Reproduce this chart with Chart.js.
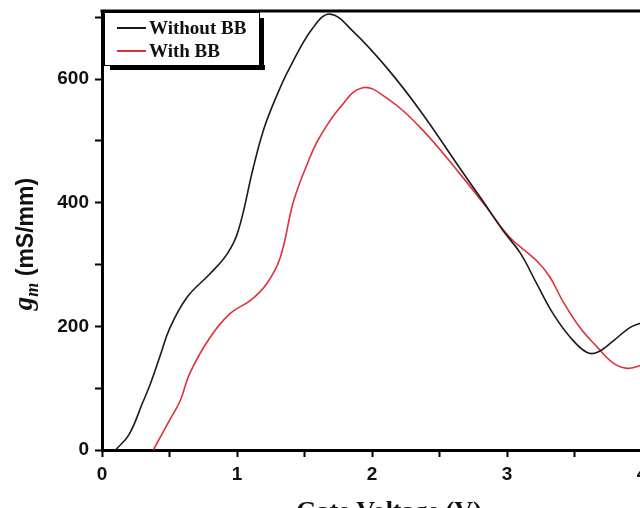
<!DOCTYPE html>
<html>
<head>
<meta charset="utf-8">
<script src="https://cdn.jsdelivr.net/npm/chart.js@4.4.1/dist/chart.umd.min.js"></script>
<style>
  html, body { margin: 0; padding: 0; background: #fff; overflow: hidden; }
  #wrap { position: relative; width: 660px; height: 530px; }
</style>
</head>
<body>
<div id="wrap"><canvas id="gmChart"></canvas></div>
<script>
// ── Data ──
const seriesNames = ['Without BB', 'With BB'];

const withoutVg = [0.10, 0.20, 0.30, 0.36, 0.43, 0.50, 0.63, 0.80, 0.93, 1.01, 1.12, 1.20,
                   1.30, 1.39, 1.56, 1.69, 1.86, 2.11, 2.36, 2.65, 2.82, 2.97, 3.10, 3.22,
                   3.34, 3.47, 3.59, 3.67, 3.79, 3.91, 4.00];
const withoutGm = [0, 25, 76, 108, 152, 196, 247, 285, 318, 355, 456, 520,
                   576, 618, 682, 705, 677, 618, 548, 456, 403, 355, 318, 269,
                   221, 182, 158, 158, 177, 198, 206];

const withVg = [0.38, 0.50, 0.58, 0.65, 0.80, 0.95, 1.10, 1.22, 1.32, 1.42, 1.54,
                1.61, 1.76, 1.93, 2.11, 2.36, 2.65, 2.85, 3.02, 3.22, 3.32, 3.41, 3.54,
                3.67, 3.79, 3.89, 4.00];
const withGm = [0, 48, 80, 124, 182, 221, 242, 269, 311, 403, 473,
                505, 553, 586, 569, 521, 447, 392, 344, 306, 279, 242, 198,
                166, 140, 132, 137];

// ticks: majors carry a label, minors are blank
const xTickValues = [0, 0.5, 1, 1.5, 2, 2.5, 3, 3.5, 4];
const xTickLabels = ['0', '', '1', '', '2', '', '3', '', '4'];
const yTickValues = [0, 100, 200, 300, 400, 500, 600, 700];
const yTickLabels = ['0', '', '200', '', '400', '', '600', ''];

const toPoints = (xs, ys) => xs.map((x, i) => ({ x, y: ys[i] }));

/* ════════════════════════════
   FRAME, TITLES & LEGEND
════════════════════════════ */
const framePlugin = {
  id: 'frame',
  afterDraw(chart) {
    const { ctx, chartArea: a } = chart;
    ctx.save();
    // top border
    ctx.strokeStyle = '#000';
    ctx.lineWidth = 3;
    ctx.beginPath();
    ctx.moveTo(a.left - 1.5, a.top);
    ctx.lineTo(a.right + 2, a.top);
    ctx.stroke();

    // y title: g_m (mS/mm)
    ctx.fillStyle = '#111';
    ctx.translate(27, 244);
    ctx.rotate(-Math.PI / 2);
    ctx.textBaseline = 'middle';
    ctx.font = 'italic bold 27px "Liberation Serif"';
    const gW = ctx.measureText('g').width;
    ctx.font = 'italic bold 18px "Liberation Serif"';
    const mW = ctx.measureText('m').width;
    ctx.font = 'bold 23px "Liberation Sans"';
    const restW = ctx.measureText(' (mS/mm)').width;
    let x0 = -(gW + mW + restW) / 2;
    ctx.font = 'italic bold 27px "Liberation Serif"';
    ctx.fillText('g', x0, -2);
    ctx.font = 'italic bold 18px "Liberation Serif"';
    ctx.fillText('m', x0 + gW, 6);
    ctx.font = 'bold 23px "Liberation Sans"';
    ctx.fillText(' (mS/mm)', x0 + gW + mW, 0);
    ctx.restore();

    // x title (cut by the window edge)
    ctx.save();
    ctx.fillStyle = '#111';
    ctx.font = 'bold 26px "Liberation Serif"';
    ctx.textAlign = 'center';
    ctx.textBaseline = 'alphabetic';
    ctx.fillText('Gate Voltage (V)', 389, 519);
    ctx.restore();

    // legend box with drop shadow
    ctx.save();
    const bx = a.left + 2, by = a.top + 1, bw = 155, bh = 53;
    ctx.fillStyle = '#000';
    ctx.fillRect(bx + 6, by + bh, bw, 5);
    ctx.fillRect(bx + bw, by + 6, 5, bh - 1);
    ctx.fillStyle = '#fff';
    ctx.fillRect(bx, by, bw, bh);
    ctx.strokeStyle = '#000';
    ctx.lineWidth = 1;
    ctx.strokeRect(bx + 0.5, by + 0.5, bw, bh);
    ctx.font = 'bold 19px "Liberation Serif"';
    ctx.textBaseline = 'middle';
    chart.data.datasets.forEach((ds, i) => {
      const ly = by + 16 + i * 23;
      ctx.strokeStyle = ds.borderColor;
      ctx.lineWidth = 2;
      ctx.beginPath();
      ctx.moveTo(bx + 13, ly);
      ctx.lineTo(bx + 42, ly);
      ctx.stroke();
      ctx.fillStyle = '#111';
      ctx.fillText(ds.label, bx + 45, ly + 1);
    });
    ctx.restore();
  }
};

/* ════════════════════════════
   CHART
════════════════════════════ */
const tickFont = { family: '"Liberation Sans"', size: 19, weight: 'bold' };

new Chart(document.getElementById('gmChart'), {
  type: 'line',
  data: {
    datasets: [
      {
        label: seriesNames[0],
        data: toPoints(withoutVg, withoutGm),
        borderColor: '#1a1a1a',
        borderWidth: 1.6,
        pointRadius: 0,
        tension: 0.4,
        fill: false
      },
      {
        label: seriesNames[1],
        data: toPoints(withVg, withGm),
        borderColor: '#e0303c',
        borderWidth: 1.6,
        pointRadius: 0,
        tension: 0.4,
        fill: false
      }
    ]
  },
  options: {
    responsive: true,
    maintainAspectRatio: false,
    animation: false,
    layout: { padding: { top: 11, right: 18, left: 0, bottom: 0 } },
    plugins: {
      legend: { display: false },
      tooltip: { enabled: false }
    },
    scales: {
      x: {
        type: 'linear',
        min: 0,
        max: 4,
        afterFit: s => { s.height = 80; s.paddingLeft = 0; s.paddingRight = 0; },
        afterBuildTicks: s => { s.ticks = xTickValues.map(v => ({ value: v })); },
        border: { color: '#000', width: 3 },
        grid: { drawOnChartArea: false, drawTicks: true, tickLength: 7, tickWidth: 2, tickColor: '#000' },
        ticks: {
          autoSkip: false,
          maxRotation: 0,
          padding: 6,
          color: '#111',
          font: tickFont,
          callback: (v, i) => xTickLabels[i]
        }
      },
      y: {
        min: 0,
        max: 710,
        afterFit: s => { s.width = 102; s.paddingTop = 0; s.paddingBottom = 0; },
        afterBuildTicks: s => { s.ticks = yTickValues.map(v => ({ value: v })); },
        border: { color: '#000', width: 3 },
        grid: { drawOnChartArea: false, drawTicks: true, tickLength: 7, tickWidth: 2, tickColor: '#000' },
        ticks: {
          autoSkip: false,
          padding: 6,
          color: '#111',
          font: tickFont,
          callback: (v, i) => yTickLabels[i]
        }
      }
    }
  },
  plugins: [framePlugin]
});
</script>
</body>
</html>
